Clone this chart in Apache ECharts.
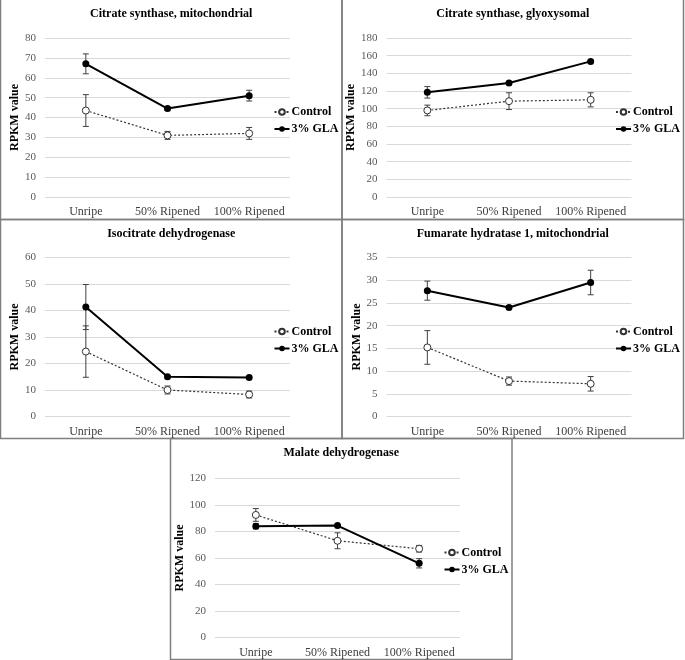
<!DOCTYPE html>
<html>
<head>
<meta charset="utf-8">
<script src="https://cdn.jsdelivr.net/npm/echarts@6/dist/echarts.min.js"></script>
<style>
  html, body { margin: 0; padding: 0; background: #fff; }
  #chart { width: 685px; height: 660px; }
</style>
</head>
<body>
<div id="chart"></div>
<script>
// stages on the x axis
const stages = ['Unripe', '50% Ripened', '100% Ripened']
const seriesNames = ['Control', '3% GLA']

// panel titles
const titles = [
  'Citrate synthase, mitochondrial',
  'Citrate synthase, glyoxysomal',
  'Isocitrate dehydrogenase',
  'Fumarate hydratase 1, mitochondrial',
  'Malate dehydrogenase'
]

// mean RPKM values and error bars (+/-) per panel
const csMitoControl = [43.5, 31, 32]
const csMitoControlErr = [8, 2, 3]
const csMitoGla = [67, 44.5, 51]
const csMitoGlaErr = [5, 1, 2.7]

const csGlyoControl = [98, 108.5, 110]
const csGlyoControlErr = [6, 9.5, 8]
const csGlyoGla = [118.5, 129, 153.5]
const csGlyoGlaErr = [6.5, 2, 1.5]

const idhControl = [24.5, 10, 8.3]
const idhControlErr = [9.7, 1.5, 1.3]
const idhGla = [41.3, 15, 14.7]
const idhGlaErr = [8.5, 0.5, 0.5]

const fhControl = [15.2, 7.8, 7.2]
const fhControlErr = [3.7, 0.9, 1.6]
const fhGla = [27.7, 24, 29.5]
const fhGlaErr = [2.1, 0.4, 2.7]

const mdhControl = [92.5, 73, 67]
const mdhControlErr = [4.8, 6, 2.5]
const mdhGla = [84, 84.5, 56]
const mdhGlaErr = [2, 0.5, 3.5]

// y axis max / step per panel
const yMax = [80, 180, 60, 35, 120]
const yStep = [10, 20, 10, 5, 20]

const panelData = [
  [csMitoControl, csMitoControlErr, csMitoGla, csMitoGlaErr],
  [csGlyoControl, csGlyoControlErr, csGlyoGla, csGlyoGlaErr],
  [idhControl, idhControlErr, idhGla, idhGlaErr],
  [fhControl, fhControlErr, fhGla, fhGlaErr],
  [mdhControl, mdhControlErr, mdhGla, mdhGlaErr]
]

// panel boxes: x, y, w, h
const panels = [
  [0.5, -2, 341.5, 221.5],
  [342, -2, 341.5, 221.5],
  [0.5, 219.5, 341.5, 219],
  [342, 219.5, 341.5, 219],
  [170.5, 438.5, 341.5, 221]
]

const FONT = '"Liberation Serif", "Times New Roman", serif'

const grids = [], xAxes = [], yAxes = [], series = [], legends = [], titleList = [], frames = []

function errorSeries (idx, means, errs) {
  return {
    type: 'custom',
    xAxisIndex: idx,
    yAxisIndex: idx,
    z: 1,
    silent: true,
    data: means.map((m, i) => [i, m - errs[i], m + errs[i]]),
    renderItem: function (params, api) {
      const lo = api.coord([api.value(0), api.value(1)])
      const hi = api.coord([api.value(0), api.value(2)])
      const w = 3
      const style = { stroke: '#404040', lineWidth: 1 }
      return {
        type: 'group',
        children: [
          { type: 'line', shape: { x1: lo[0], y1: lo[1], x2: hi[0], y2: hi[1] }, style: style },
          { type: 'line', shape: { x1: lo[0] - w, y1: lo[1], x2: lo[0] + w, y2: lo[1] }, style: style },
          { type: 'line', shape: { x1: hi[0] - w, y1: hi[1], x2: hi[0] + w, y2: hi[1] }, style: style }
        ]
      }
    }
  }
}

panels.forEach((p, i) => {
  const [px, py, pw, ph] = p
  const top = py < 0 ? 0 : py
  const plotTop = i === 4 ? 40 : 38
  grids.push({ left: px + 44.5, width: 245, top: top + plotTop, height: 159 })
  xAxes.push({
    type: 'category',
    gridIndex: i,
    data: stages,
    axisLine: { show: false },
    axisTick: { show: false },
    axisLabel: { interval: 0, fontFamily: FONT, fontSize: 12, color: '#404040', margin: 9 }
  })
  yAxes.push({
    type: 'value',
    gridIndex: i,
    min: 0,
    max: yMax[i],
    interval: yStep[i],
    name: 'RPKM value',
    nameLocation: 'middle',
    nameGap: 24,
    nameTextStyle: { fontFamily: FONT, fontSize: 12, fontWeight: 'bold', color: '#000' },
    axisLine: { show: false },
    axisTick: { show: false },
    axisLabel: { fontFamily: FONT, fontSize: 11, color: '#595959', margin: 9 },
    splitLine: { lineStyle: { color: '#d9d9d9', width: 1 } }
  })
  const [c, ce, g, ge] = panelData[i]
  series.push(errorSeries(i, c, ce))
  series.push(errorSeries(i, g, ge))
  series.push({
    name: seriesNames[0],
    type: 'line',
    xAxisIndex: i,
    yAxisIndex: i,
    z: 2,
    data: c,
    symbol: 'circle',
    symbolSize: 7,
    lineStyle: { color: '#333', width: 1.2, type: [2, 2] },
    itemStyle: { color: '#fff', borderColor: '#333', borderWidth: 1 }
  })
  series.push({
    name: seriesNames[1],
    type: 'line',
    xAxisIndex: i,
    yAxisIndex: i,
    z: 3,
    data: g,
    symbol: 'circle',
    symbolSize: 7,
    lineStyle: { color: '#000', width: 2 },
    itemStyle: { color: '#000' }
  })
  legends.push({
    data: seriesNames,
    orient: 'vertical',
    left: px + 273,
    top: top + (i === 4 ? 108 : 106),
    padding: 0,
    itemWidth: 15,
    itemHeight: 7,
    itemGap: 5,
    selectedMode: false,
    textStyle: { fontFamily: FONT, fontSize: 12, fontWeight: 'bold', color: '#000', padding: [0, 0, 0, -3] }
  })
  titleList.push({
    text: titles[i],
    left: px + pw / 2,
    top: top + 8,
    padding: 0,
    textAlign: 'center',
    textStyle: { fontFamily: FONT, fontSize: 12, fontWeight: 'bold', color: '#000' }
  })
  frames.push({
    type: 'rect',
    shape: { x: px, y: py, width: pw, height: ph },
    style: { fill: null, stroke: '#7f7f7f', lineWidth: 1.5 },
    silent: true
  })
})

const chart = echarts.init(document.getElementById('chart'), null, { renderer: 'canvas' })
chart.setOption({
  animation: false,
  backgroundColor: '#fff',
  title: titleList,
  legend: legends,
  grid: grids,
  xAxis: xAxes,
  yAxis: yAxes,
  series: series,
  graphic: frames
})
</script>
</body>
</html>
